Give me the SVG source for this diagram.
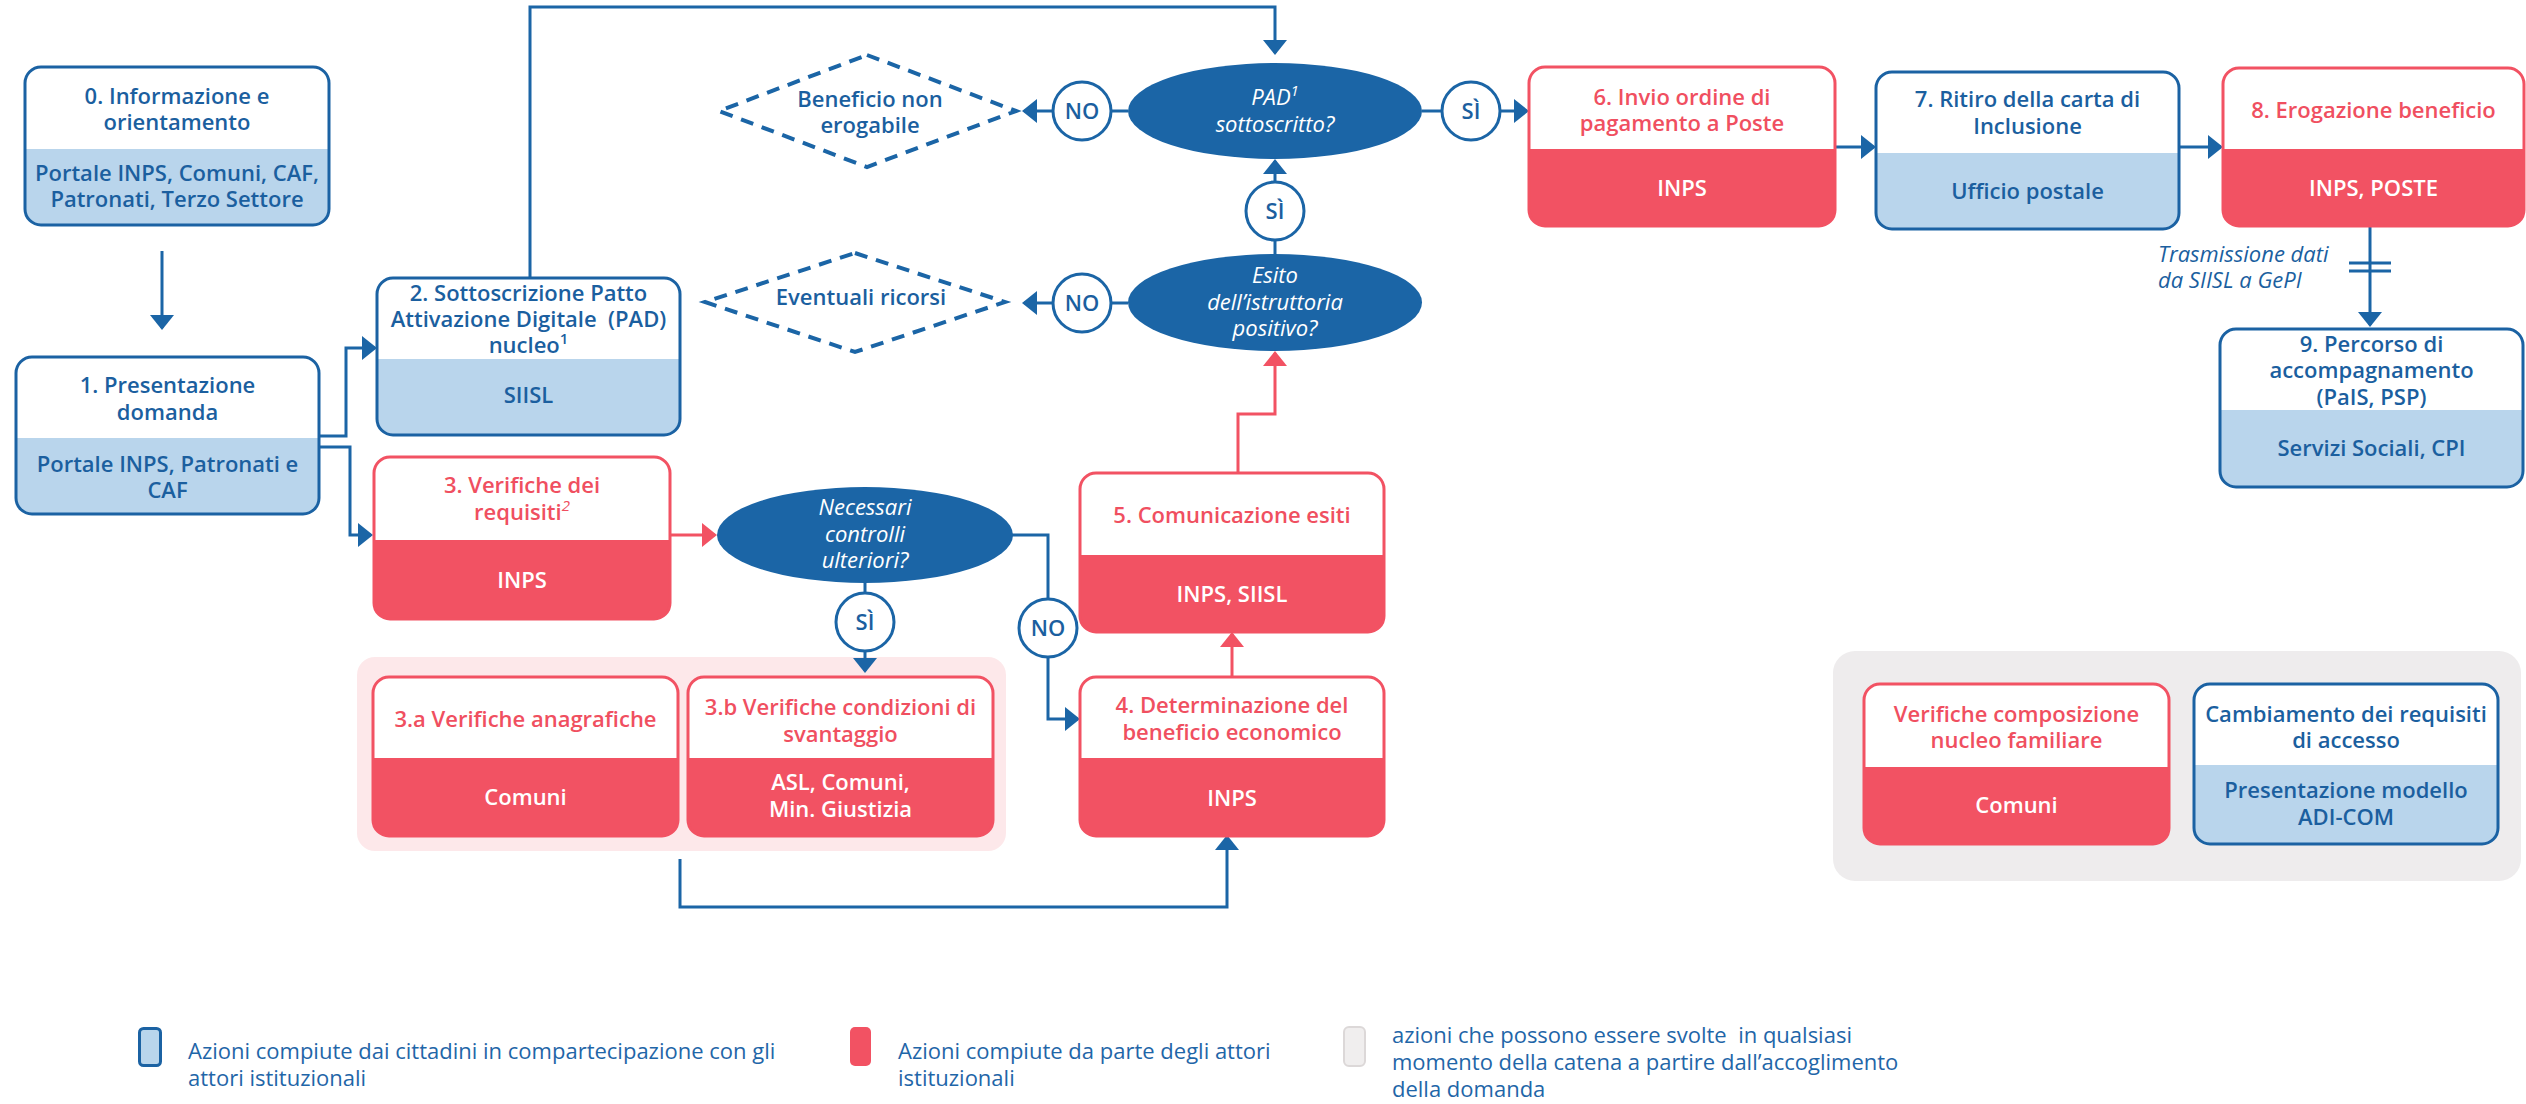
<svg xmlns="http://www.w3.org/2000/svg" width="2526" height="1104" viewBox="0 0 2526 1104">
<defs>
<style>
text{font-family:"Open Sans","Noto Sans","Liberation Sans",sans-serif;font-size:22px;text-anchor:middle}
.t{font-weight:600}
.tb{fill:#1b5f9f}
.tr{fill:#f04f60}
.tw{fill:#ffffff}
.it{font-style:italic;font-weight:400}
.ob{fill:none;stroke:#1b62a3;stroke-width:3}
.or{fill:none;stroke:#f25263;stroke-width:3}
.fb{fill:#b9d5ec}
.fr{fill:#f25263}
.w{fill:#ffffff}
.c{fill:none;stroke:#1b65a6;stroke-width:3}
.cr{fill:none;stroke:#f25263;stroke-width:3}
.ell{fill:#1b65a6}
.circ{fill:#ffffff;stroke:#1b65a6;stroke-width:3}
.dia{fill:none;stroke:#1b65a6;stroke-width:4;stroke-dasharray:13 9}
.leg{font-weight:400;fill:#1f66a8;text-anchor:start}
</style>
<marker id="ab" markerUnits="userSpaceOnUse" viewBox="0 0 15 24" refX="13" refY="12" markerWidth="15" markerHeight="24" orient="auto"><path d="M0,0 L15,12 L0,24 Z" fill="#1b65a6"/></marker>
<marker id="ar" markerUnits="userSpaceOnUse" viewBox="0 0 15 24" refX="13" refY="12" markerWidth="15" markerHeight="24" orient="auto"><path d="M0,0 L15,12 L0,24 Z" fill="#f25263"/></marker>
</defs>
<rect width="2526" height="1104" fill="#ffffff"/>

<g id="group-3ab-bg"><rect x="357" y="657" width="649" height="194" rx="18" fill="#fde8ea"/></g>
<g id="group-any-bg"><rect x="1833" y="651" width="688" height="230" rx="22" fill="#eeeced"/></g>

<g id="connectors">
<path class="c" d="M162,251 V328" marker-end="url(#ab)"/>
<path class="c" d="M319,436 H346 V348 H375" marker-end="url(#ab)"/>
<path class="c" d="M319,447 H350 V535 H371" marker-end="url(#ab)"/>
<path class="c" d="M530,278 V7 H1275 V53" marker-end="url(#ab)"/>
<path class="c" d="M1128,111 H1111"/>
<path class="c" d="M1053,111 H1024" marker-end="url(#ab)"/>
<path class="c" d="M1422,111 H1442"/>
<path class="c" d="M1500,111 H1527" marker-end="url(#ab)"/>
<path class="c" d="M1835,147 H1874" marker-end="url(#ab)"/>
<path class="c" d="M2179,147 H2221" marker-end="url(#ab)"/>
<path class="c" d="M2370,226 V325" marker-end="url(#ab)"/>
<path class="c" d="M2349,263 H2391 M2349,271 H2391"/>
<path class="c" d="M1275,254 V240"/>
<path class="c" d="M1275,182 V161" marker-end="url(#ab)"/>
<path class="c" d="M1128,303 H1111"/>
<path class="c" d="M1053,303 H1024" marker-end="url(#ab)"/>
<path class="cr" d="M670,535 H715" marker-end="url(#ar)"/>
<path class="c" d="M865,583 V593"/>
<path class="c" d="M865,651 V671" marker-end="url(#ab)"/>
<path class="c" d="M1012,535 H1048 V599"/>
<path class="c" d="M1048,657 V719 H1078" marker-end="url(#ab)"/>
<path class="c" d="M680,859 V907 H1227 V837" marker-end="url(#ab)"/>
<path class="cr" d="M1232,677 V634" marker-end="url(#ar)"/>
<path class="cr" d="M1238,473 V414 H1275 V353" marker-end="url(#ar)"/>
<text class="it tb" x="2158" y="262" style="text-anchor:start">Trasmissione dati</text>
<text class="it tb" x="2158" y="288" style="text-anchor:start">da SIISL a GePI</text>
</g>

<g id="n0">
<rect class="fb" x="25" y="67" width="304" height="158" rx="16"/>
<path class="w" d="M25,149 V83 A16,16 0 0 1 41,67 H313 A16,16 0 0 1 329,83 V149 Z"/>
<rect class="ob" x="25" y="67" width="304" height="158" rx="16"/>
<text class="t tb" x="177" y="104">0. Informazione e</text>
<text class="t tb" x="177" y="130">orientamento</text>
<text class="t tb" x="177" y="181">Portale INPS, Comuni, CAF,</text>
<text class="t tb" x="177" y="207">Patronati, Terzo Settore</text>
</g>

<g id="n1">
<rect class="fb" x="16" y="357" width="303" height="157" rx="16"/>
<path class="w" d="M16,438 V373 A16,16 0 0 1 32,357 H303 A16,16 0 0 1 319,373 V438 Z"/>
<rect class="ob" x="16" y="357" width="303" height="157" rx="16"/>
<text class="t tb" x="167.5" y="393">1. Presentazione</text>
<text class="t tb" x="167.5" y="420">domanda</text>
<text class="t tb" x="167.5" y="472">Portale INPS, Patronati e</text>
<text class="t tb" x="167.5" y="498">CAF</text>
</g>

<g id="n2">
<rect class="fb" x="377" y="278" width="303" height="157" rx="16"/>
<path class="w" d="M377,359 V294 A16,16 0 0 1 393,278 H664 A16,16 0 0 1 680,294 V359 Z"/>
<rect class="ob" x="377" y="278" width="303" height="157" rx="16"/>
<text class="t tb" x="528.5" y="301">2. Sottoscrizione Patto</text>
<text class="t tb" x="528.5" y="327" style="white-space:pre">Attivazione Digitale  (PAD)</text>
<text class="t tb" x="528.5" y="353">nucleo<tspan font-size="15" dy="-9">1</tspan></text>
<text class="t tb" x="528.5" y="403">SIISL</text>
</g>

<g id="n3">
<rect class="fr" x="374" y="457" width="296" height="162" rx="16"/>
<path class="w" d="M374,540 V473 A16,16 0 0 1 390,457 H654 A16,16 0 0 1 670,473 V540 Z"/>
<rect class="or" x="374" y="457" width="296" height="162" rx="16"/>
<text class="t tr" x="522" y="493">3. Verifiche dei</text>
<text class="t tr" x="522" y="520">requisiti<tspan font-size="15" dy="-9" font-style="italic" font-weight="400">2</tspan></text>
<text class="t tw" x="522" y="588">INPS</text>
</g>

<g id="n3a">
<rect class="fr" x="373" y="677" width="305" height="159" rx="16"/>
<path class="w" d="M373,758 V693 A16,16 0 0 1 389,677 H662 A16,16 0 0 1 678,693 V758 Z"/>
<rect class="or" x="373" y="677" width="305" height="159" rx="16"/>
<text class="t tr" x="525.5" y="727">3.a Verifiche anagrafiche</text>
<text class="t tw" x="525.5" y="805">Comuni</text>
</g>

<g id="n3b">
<rect class="fr" x="688" y="677" width="305" height="159" rx="16"/>
<path class="w" d="M688,758 V693 A16,16 0 0 1 704,677 H977 A16,16 0 0 1 993,693 V758 Z"/>
<rect class="or" x="688" y="677" width="305" height="159" rx="16"/>
<text class="t tr" x="840.5" y="715">3.b Verifiche condizioni di</text>
<text class="t tr" x="840.5" y="742">svantaggio</text>
<text class="t tw" x="840.5" y="790">ASL, Comuni,</text>
<text class="t tw" x="840.5" y="817">Min. Giustizia</text>
</g>

<g id="n4">
<rect class="fr" x="1080" y="677" width="304" height="159" rx="16"/>
<path class="w" d="M1080,758 V693 A16,16 0 0 1 1096,677 H1368 A16,16 0 0 1 1384,693 V758 Z"/>
<rect class="or" x="1080" y="677" width="304" height="159" rx="16"/>
<text class="t tr" x="1232" y="713">4. Determinazione del</text>
<text class="t tr" x="1232" y="740">beneficio economico</text>
<text class="t tw" x="1232" y="806">INPS</text>
</g>

<g id="n5">
<rect class="fr" x="1080" y="473" width="304" height="159" rx="16"/>
<path class="w" d="M1080,555 V489 A16,16 0 0 1 1096,473 H1368 A16,16 0 0 1 1384,489 V555 Z"/>
<rect class="or" x="1080" y="473" width="304" height="159" rx="16"/>
<text class="t tr" x="1232" y="523">5. Comunicazione esiti</text>
<text class="t tw" x="1232" y="602">INPS, SIISL</text>
</g>

<g id="n6">
<rect class="fr" x="1529" y="67" width="306" height="159" rx="16"/>
<path class="w" d="M1529,149 V83 A16,16 0 0 1 1545,67 H1819 A16,16 0 0 1 1835,83 V149 Z"/>
<rect class="or" x="1529" y="67" width="306" height="159" rx="16"/>
<text class="t tr" x="1682" y="105">6. Invio ordine di</text>
<text class="t tr" x="1682" y="131">pagamento a Poste</text>
<text class="t tw" x="1682" y="196">INPS</text>
</g>

<g id="n7">
<rect class="fb" x="1876" y="72" width="303" height="157" rx="16"/>
<path class="w" d="M1876,153 V88 A16,16 0 0 1 1892,72 H2163 A16,16 0 0 1 2179,88 V153 Z"/>
<rect class="ob" x="1876" y="72" width="303" height="157" rx="16"/>
<text class="t tb" x="2027.5" y="107">7. Ritiro della carta di</text>
<text class="t tb" x="2027.5" y="134">Inclusione</text>
<text class="t tb" x="2027.5" y="199">Ufficio postale</text>
</g>

<g id="n8">
<rect class="fr" x="2223" y="68" width="301" height="158" rx="16"/>
<path class="w" d="M2223,149 V84 A16,16 0 0 1 2239,68 H2508 A16,16 0 0 1 2524,84 V149 Z"/>
<rect class="or" x="2223" y="68" width="301" height="158" rx="16"/>
<text class="t tr" x="2373.5" y="118">8. Erogazione beneficio</text>
<text class="t tw" x="2373.5" y="196">INPS, POSTE</text>
</g>

<g id="n9">
<rect class="fb" x="2220" y="329" width="303" height="158" rx="16"/>
<path class="w" d="M2220,410 V345 A16,16 0 0 1 2236,329 H2507 A16,16 0 0 1 2523,345 V410 Z"/>
<rect class="ob" x="2220" y="329" width="303" height="158" rx="16"/>
<text class="t tb" x="2371.5" y="352">9. Percorso di</text>
<text class="t tb" x="2371.5" y="378">accompagnamento</text>
<text class="t tb" x="2371.5" y="405">(PaIS, PSP)</text>
<text class="t tb" x="2371.5" y="456">Servizi Sociali, CPI</text>
</g>

<g id="n-verifiche-nucleo">
<rect class="fr" x="1864" y="684" width="305" height="160" rx="16"/>
<path class="w" d="M1864,767 V700 A16,16 0 0 1 1880,684 H2153 A16,16 0 0 1 2169,700 V767 Z"/>
<rect class="or" x="1864" y="684" width="305" height="160" rx="16"/>
<text class="t tr" x="2016.5" y="722">Verifiche composizione</text>
<text class="t tr" x="2016.5" y="748">nucleo familiare</text>
<text class="t tw" x="2016.5" y="813">Comuni</text>
</g>

<g id="n-cambiamento">
<rect class="fb" x="2194" y="684" width="304" height="160" rx="16"/>
<path class="w" d="M2194,765 V700 A16,16 0 0 1 2210,684 H2482 A16,16 0 0 1 2498,700 V765 Z"/>
<rect class="ob" x="2194" y="684" width="304" height="160" rx="16"/>
<text class="t tb" x="2346" y="722">Cambiamento dei requisiti</text>
<text class="t tb" x="2346" y="748">di accesso</text>
<text class="t tb" x="2346" y="798">Presentazione modello</text>
<text class="t tb" x="2346" y="825">ADI-COM</text>
</g>

<g id="e-pad">
<ellipse class="ell" cx="1275" cy="111" rx="147" ry="48"/>
<text class="it tw" x="1275" y="105">PAD<tspan font-size="15" dy="-9">1</tspan></text>
<text class="it tw" x="1275" y="132">sottoscritto?</text>
</g>

<g id="e-esito">
<ellipse class="ell" cx="1275" cy="302.5" rx="147" ry="48.5"/>
<text class="it tw" x="1275" y="283">Esito</text>
<text class="it tw" x="1275" y="310">dell’istruttoria</text>
<text class="it tw" x="1275" y="336">positivo?</text>
</g>

<g id="e-controlli">
<ellipse class="ell" cx="865" cy="535" rx="148" ry="48"/>
<text class="it tw" x="865" y="515">Necessari</text>
<text class="it tw" x="865" y="542">controlli</text>
<text class="it tw" x="865" y="568">ulteriori?</text>
</g>

<g id="d-beneficio">
<path class="dia" d="M867,55 L1016,111 L867,167 L719,111 Z"/>
<text class="t tb" x="870" y="107">Beneficio non</text>
<text class="t tb" x="870" y="133">erogabile</text>
</g>

<g id="d-ricorsi">
<path class="dia" d="M855,253 L1005,302 L855,352 L705,302 Z"/>
<text class="t tb" x="861" y="305">Eventuali ricorsi</text>
</g>

<g id="c-no1"><circle class="circ" cx="1082" cy="111" r="29"/><text class="t tb" x="1082" y="119">NO</text></g>
<g id="c-si1"><circle class="circ" cx="1471" cy="111" r="29"/><text class="t tb" x="1471" y="119">SÌ</text></g>
<g id="c-si2"><circle class="circ" cx="1275" cy="211" r="29"/><text class="t tb" x="1275" y="219">SÌ</text></g>
<g id="c-no2"><circle class="circ" cx="1082" cy="303" r="29"/><text class="t tb" x="1082" y="311">NO</text></g>
<g id="c-si3"><circle class="circ" cx="865" cy="622" r="29"/><text class="t tb" x="865" y="630">SÌ</text></g>
<g id="c-no3"><circle class="circ" cx="1048" cy="628" r="29"/><text class="t tb" x="1048" y="636">NO</text></g>

<g id="legend">
<rect x="139.5" y="1028.5" width="21" height="37" rx="4" fill="#b9d5ec" stroke="#1b62a3" stroke-width="3"/>
<text class="leg" x="188" y="1059">Azioni compiute dai cittadini in compartecipazione con gli</text>
<text class="leg" x="188" y="1086">attori istituzionali</text>
<rect x="850" y="1027" width="21" height="39" rx="5" fill="#f25263"/>
<text class="leg" x="898" y="1059">Azioni compiute da parte degli attori</text>
<text class="leg" x="898" y="1086">istituzionali</text>
<rect x="1344" y="1027" width="21" height="39" rx="5" fill="#f0eeee" stroke="#dcd8d8" stroke-width="2"/>
<text class="leg" x="1392" y="1043" style="white-space:pre">azioni che possono essere svolte  in qualsiasi</text>
<text class="leg" x="1392" y="1070">momento della catena a partire dall’accoglimento</text>
<text class="leg" x="1392" y="1097">della domanda</text>
</g>
</svg>
